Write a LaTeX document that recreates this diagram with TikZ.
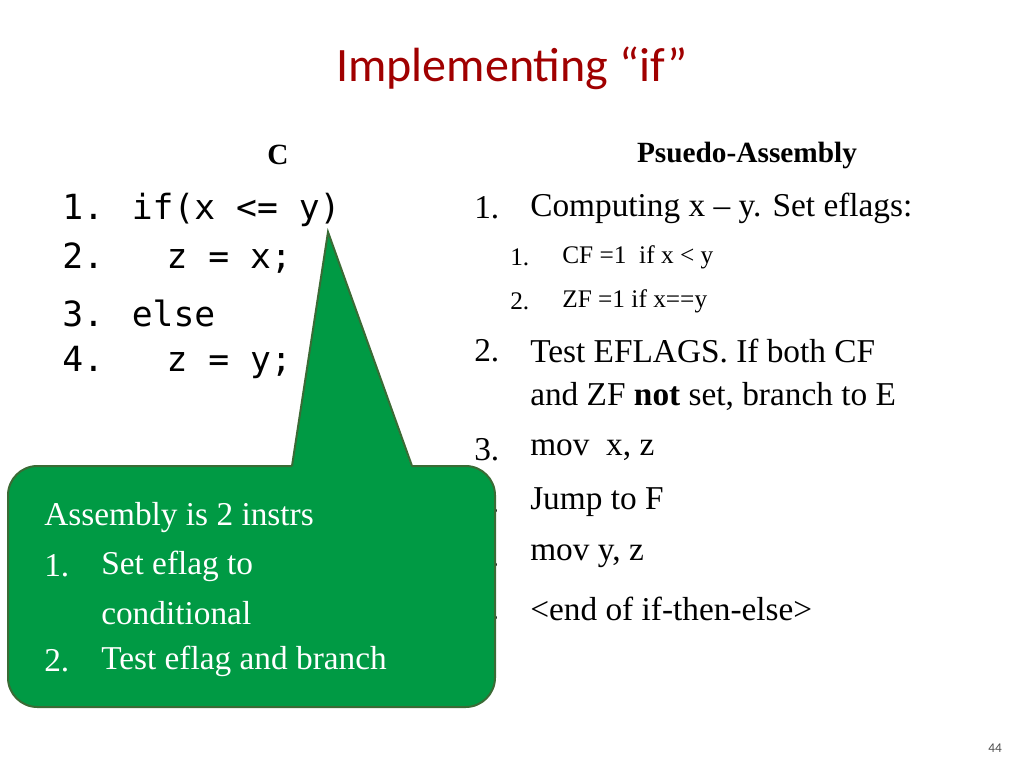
\documentclass[tikz,border=0pt]{standalone}
\usepackage{fontspec}
\setmainfont{Liberation Serif}
\newfontfamily\titlefont{Carlito}
\newfontfamily\codefont{DejaVu Sans Mono}
\definecolor{titlered}{HTML}{A00000}
\definecolor{callgreen}{HTML}{009A44}
\definecolor{callborder}{HTML}{3A6B35}
\begin{document}
\begin{tikzpicture}[x=0.75pt,y=-0.75pt,
  txt/.style={anchor=west,inner sep=0pt},
  code/.style={txt,font=\codefont\fontsize{26}{30}\selectfont},
  big/.style={txt,font=\fontsize{25}{30}\selectfont},
  small/.style={txt,font=\fontsize{19}{23}\selectfont},
  call/.style={txt,font=\fontsize{25}{30}\selectfont,text=white}]
\useasboundingbox (0,0) rectangle (1024,768);
\node[inner sep=0pt,text=titlered,font=\titlefont\fontsize{36}{40}\selectfont] (title) at (512,68) {Implementing “if”};
\node[inner sep=0pt,font=\bfseries\fontsize{22}{26}\selectfont] (ch) at (278,155) {C};
\node[code] (c1) at (62,210) {1. if(x <= y)};
\node[code] (c2) at (62,258) {2.\ \ \ z = x;};
\node[code] (c3) at (62,313) {3. else};
\node[code] (c4) at (62,362) {4.\ \ \ z = y;};
\node[inner sep=0pt,font=\bfseries\fontsize{22}{26}\selectfont] (ah) at (747,155) {Psuedo-Assembly};
\node[big] (n1) at (474,208) {1.};
\node[big] (t1) at (530,208) {Computing x – y. Set eflags:};
\node[small] (n11) at (510,257) {1.};
\node[small] (t11) at (562,257) {CF =1\ \ if x < y};
\node[small] (n12) at (510,301) {2.};
\node[small] (t12) at (562,301) {ZF =1 if x==y};
\node[big] (n2) at (474,351) {2.};
\node[big] (t2) at (530,351) {Test EFLAGS. If both CF};
\node[big] (t2b) at (530,396) {and ZF \textbf{not} set, branch to E};
\node[big] (n3) at (474,450) {3.};
\node[big] (t3) at (530,450) {mov\ \ x, z};
\node[big] (n4) at (474,502) {4.};
\node[big] (t4) at (530,502) {Jump to F};
\node[big] (n5) at (474,556) {5.};
\node[big] (t5) at (530,556) {mov y, z};
\node[big] (n6) at (474,609) {6.};
\node[big] (t6) at (530,609) {<end of if-then-else>};
% callout
\coordinate (tip) at (328,232);
\fill[callgreen,draw=callborder,line width=1.5pt,rounded corners=22pt] (8,466) rectangle (495,707);
\fill[callgreen] (292,468) -- (tip) -- (412,468) -- cycle;
\draw[callborder,line width=1.5pt,line join=miter] (292,466) -- (tip) -- (412,466);
\node[call] (a0) at (44,518) {Assembly is 2 instrs};
\node[call] (a1) at (44,566) {1.};
\node[call] (a1t) at (101,566) {Set eflag to};
\node[call] (a1u) at (101,613) {conditional};
\node[call] (a2) at (44,661) {2.};
\node[call] (a2t) at (101,661) {Test eflag and branch};
\node[inner sep=0pt,font=\titlefont\fontsize{10}{12}\selectfont,text=black!70] (pg) at (995,748) {44};
\end{tikzpicture}
\end{document}
